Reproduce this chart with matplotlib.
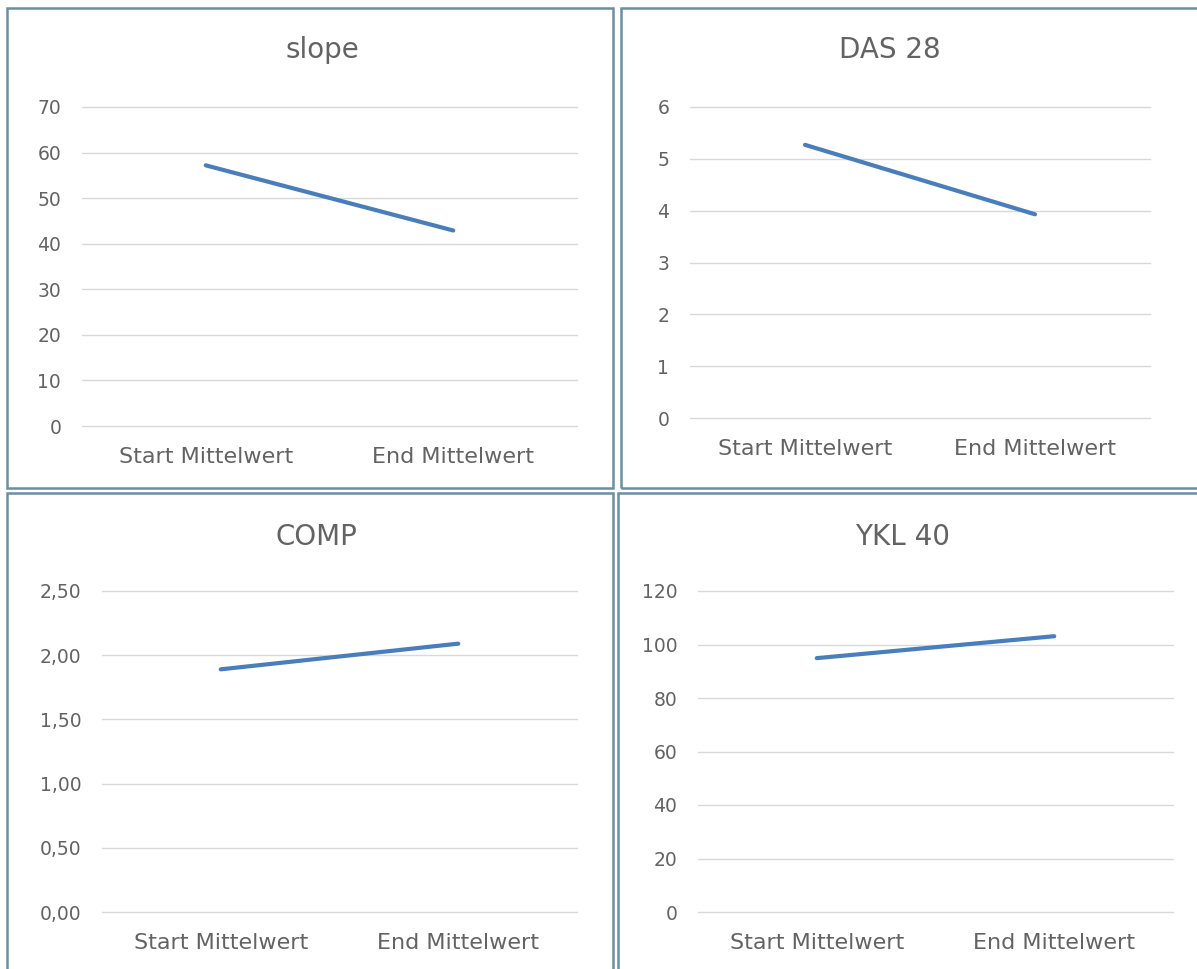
import matplotlib
matplotlib.use('Agg')
import matplotlib.pyplot as plt
from matplotlib.patches import Rectangle
from matplotlib.ticker import FuncFormatter

# data
categories = ['Start Mittelwert', 'End Mittelwert']
slope_vals = [57.2, 42.9]
das28_vals = [5.27, 3.93]
comp_vals = [1.89, 2.09]
ykl40_vals = [94.9, 103.1]

slope_ticks = [0, 10, 20, 30, 40, 50, 60, 70]
das28_ticks = [0, 1, 2, 3, 4, 5, 6]
comp_ticks = [0, 0.5, 1.0, 1.5, 2.0, 2.5]
ykl40_ticks = [0, 20, 40, 60, 80, 100, 120]

plt.rcParams['font.family'] = ['DejaVu Sans']

W, H = 1197, 969
fig = plt.figure(figsize=(W / 100, H / 100), dpi=100)
fig.patch.set_facecolor('white')

LINE = '#4a7ebb'
GRID = '#d9d9d9'
TXT = '#636363'
BORDER = '#6a8fa3'


def px_box(x0, y0, x1, y1):
    # pixel box (top-left origin) -> figure fraction [l, b, w, h]
    return [x0 / W, 1 - y1 / H, (x1 - x0) / W, (y1 - y0) / H]


def panel(box, title, title_xy, vals, ticks, fmt=None):
    ax = fig.add_axes(px_box(*box))
    ax.plot(range(len(categories)), vals, color=LINE, linewidth=3.0,
            solid_capstyle='round', zorder=3)
    ax.set_xlim(-0.5, len(categories) - 0.5)
    ax.set_ylim(ticks[0], ticks[-1])
    ax.set_yticks(ticks)
    if fmt:
        ax.yaxis.set_major_formatter(FuncFormatter(fmt))
    ax.set_xticks(range(len(categories)))
    ax.set_xticklabels(categories)
    ax.grid(axis='y', color=GRID, linewidth=1.0)
    for g in ax.get_ygridlines():
        g.set_clip_on(False)
    ax.set_axisbelow(True)
    for s in ax.spines.values():
        s.set_visible(False)
    ax.tick_params(axis='both', length=0, colors=TXT)
    ax.tick_params(axis='y', labelsize=13.5, pad=15)
    ax.tick_params(axis='x', labelsize=16, pad=15)
    ax.patch.set_alpha(0)
    fig.text(title_xy[0] / W, 1 - title_xy[1] / H, title, ha='center',
             va='center', fontsize=20, color=TXT)
    return ax


# panel frames
for (x0, y0, x1, y1) in [(7, 8, 613, 488), (621, 8, 1205, 488),
                         (7, 493, 613, 980), (618, 493, 1205, 980)]:
    fig.patches.append(Rectangle((x0 / W, 1 - y1 / H), (x1 - x0) / W,
                                 (y1 - y0) / H, transform=fig.transFigure,
                                 fill=False, edgecolor=BORDER, linewidth=1.8))

comma = lambda v, p: f'{v:.2f}'.replace('.', ',')

panel((82, 107, 577, 426), 'slope', (322, 50), slope_vals, slope_ticks)
panel((690, 107, 1150, 418), 'DAS 28', (890, 50), das28_vals, das28_ticks)
panel((102, 591, 577, 912), 'COMP', (316, 537), comp_vals, comp_ticks, comma)
panel((698, 591, 1173, 912), 'YKL 40', (903, 537), ykl40_vals, ykl40_ticks)

fig.savefig('out.png', dpi=100)
